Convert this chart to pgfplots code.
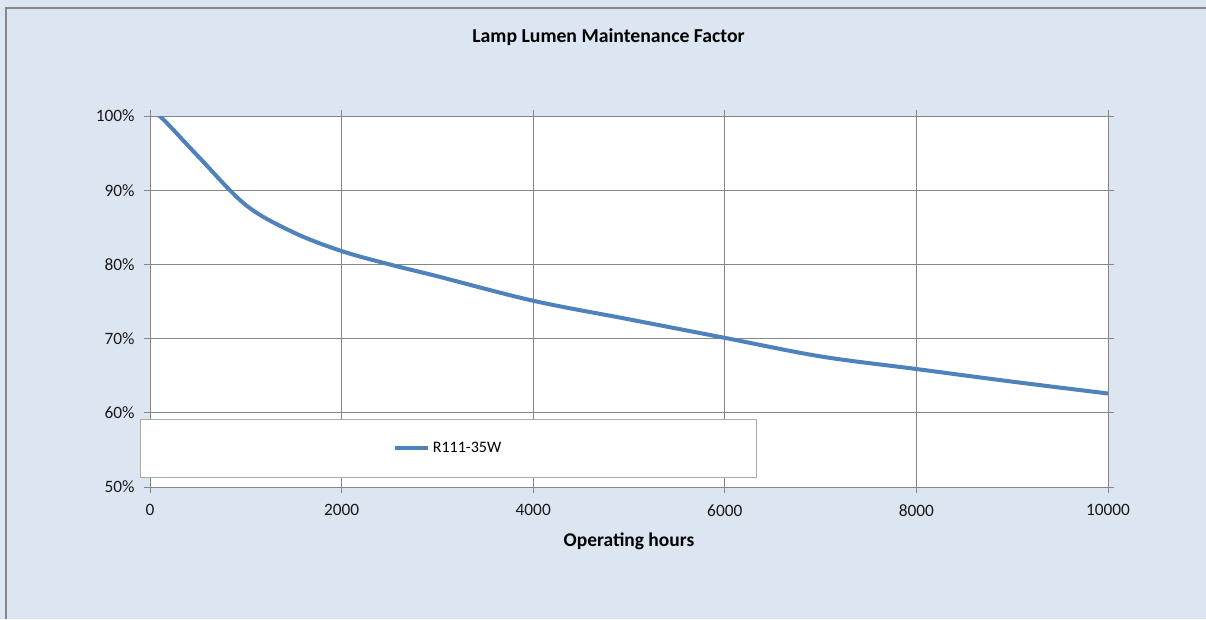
\documentclass[border=0pt]{standalone}
\usepackage{pgfplots}
\pgfplotsset{compat=1.18}
\usepackage{fontspec}
\setmainfont{Carlito}
\definecolor{bg}{HTML}{DCE6F2}
\definecolor{gridc}{HTML}{868686}
\definecolor{ser}{HTML}{4F81BD}
\begin{document}
\begin{tikzpicture}[x=1pt,y=1pt]
\useasboundingbox (0,0) rectangle (904.5,464.25);
\fill[bg] (0,0) rectangle (904.5,464.25);
\draw[gridc, line width=0.8pt] (4.5,0) -- (4.5,458.25) -- (904.5,458.25);
\begin{axis}[
  at={(112.5pt,99pt)}, anchor=south west,
  scale only axis, width=718.5pt, height=278.25pt,
  xmin=0, xmax=10000, ymin=50, ymax=100,
  scaled x ticks=false,
  xtick={0,2000,4000,6000,8000,10000},
  xticklabels={0,2000,4000,6000,8000,10000},
  ytick={50,60,70,80,90,100},
  yticklabels={50\%,60\%,70\%,80\%,90\%,100\%},
  axis background/.style={fill=white},
  axis line style={gridc, line width=0.75pt},
  grid=major,
  major grid style={gridc, line width=0.75pt},
  tick style={gridc, line width=0.75pt},
  tick align=outside,
  major tick length=4.5pt,
  ticklabel style={font=\fontsize{13}{15}\selectfont, color=black!90},
  yticklabel style={xshift=-3.5pt},
  xticklabel style={yshift=-5pt},
  xlabel={Operating hours},
  xlabel style={at={(axis description cs:0.5,0)}, anchor=center, yshift=-40.5pt, font=\fontsize{14.6}{16}\selectfont\bfseries},
  title={Lamp Lumen Maintenance Factor},
  title style={at={(axis description cs:0.4786,1.218)}, anchor=center, yshift=-7.5pt, font=\fontsize{14.8}{16}\selectfont\bfseries},
  legend style={at={(axis description cs:0.3115,0.105)}, anchor=center,
    draw=gridc!70, fill=white, line width=0.6pt,
    inner xsep=189pt, inner ysep=15pt,
    font=\fontsize{12}{14}\selectfont},
  legend image code/.code={\draw[ser, line width=3pt] (2pt,0pt) -- (27pt,0pt);},
]
\addplot[ser, line width=3pt, smooth, tension=0.55] coordinates {
(0,100) (100,100) (500,94.6) (1000,88.0) (1500,84.3) (2000,81.8) (2500,80.0)
(3000,78.4) (4000,75.1) (5000,72.6) (6000,70.1) (7000,67.6) (8000,65.9) (9000,64.2) (10000,62.6)
};
\addlegendentry{R111-35W}
\end{axis}
\end{tikzpicture}
\end{document}
